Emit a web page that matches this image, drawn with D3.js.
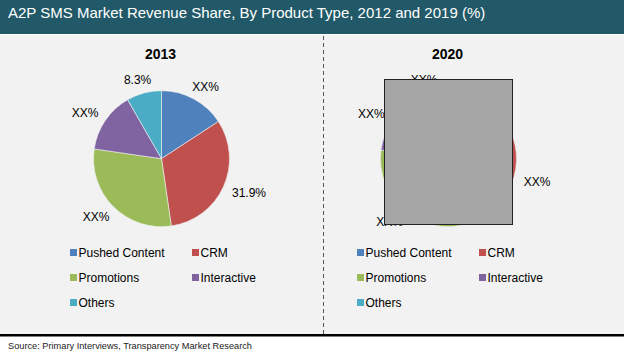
<!DOCTYPE html>
<html><head><meta charset="utf-8">
<script src="https://cdn.jsdelivr.net/npm/d3@7"></script>
<style>html,body{margin:0;padding:0;background:#fff;}svg{display:block;}</style>
</head><body>
<script>
const title = "A2P SMS Market Revenue Share, By Product Type, 2012 and 2019 (%)";
const source = "Source: Primary Interviews, Transparency Market Research";
const categories = ["Pushed Content", "CRM", "Promotions", "Interactive", "Others"];
const colors = ["#4F81BD", "#C0504D", "#9BBB59", "#8064A2", "#4BACC6"];
const years = ["2013", "2020"];
const share2013 = [15.8, 31.9, 29.6, 14.4, 8.3];
const labels2013 = ["XX%", "31.9%", "XX%", "XX%", "8.3%"];
const share2020 = [14.0, 31.0, 32.0, 14.5, 8.5];
const labels2020 = ["XX%", "XX%", "XX%", "XX%", "XX%"];

const W = 624, H = 357;
const svg = d3.select("body").append("svg").attr("width", W).attr("height", H);
const font = "'Liberation Sans',Arial,sans-serif";

// background panels
svg.append("rect").attr("x", 0).attr("y", 0).attr("width", W).attr("height", H).attr("fill", "#fff");
svg.append("rect").attr("x", 0).attr("y", 0).attr("width", W).attr("height", 34).attr("fill", "#215968");
svg.append("rect").attr("x", 0).attr("y", 35).attr("width", W).attr("height", 299).attr("fill", "#f2f2f2");
svg.append("rect").attr("x", 0).attr("y", 334).attr("width", W).attr("height", 2.5).attr("fill", "#000");

svg.append("text").attr("x", 8).attr("y", 17.5)
  .attr("font-family", font).attr("font-size", 15).attr("fill", "#fff")
  .text(title);

svg.append("text").attr("x", 8).attr("y", 349)
  .attr("font-family", font).attr("font-size", 9).attr("fill", "#222")
  .attr("textLength", 244).attr("lengthAdjust", "spacingAndGlyphs")
  .text(source);

// divider
svg.append("line").attr("x1", 323.5).attr("x2", 323.5).attr("y1", 36).attr("y2", 334)
  .attr("stroke", "#555").attr("stroke-width", 1).attr("stroke-dasharray", "4,3");

const R = 68;
const pie = d3.pie().sort(null).value(d => d);
const arc = d3.arc().innerRadius(0).outerRadius(R);

function drawPie(cx, cy, year, values, labels) {
  const g = svg.append("g").attr("transform", `translate(${cx},${cy})`);
  svg.append("text").attr("x", cx - 1).attr("y", 59).attr("text-anchor", "middle")
    .attr("font-family", font).attr("font-weight", "bold").attr("font-size", 14).attr("fill", "#000")
    .text(year);
  const arcs = pie(values);
  g.selectAll("path").data(arcs).enter().append("path")
    .attr("d", arc).attr("fill", (d, i) => colors[i])
    .attr("stroke", "#f2f2f2").attr("stroke-width", 0.6);
  arcs.forEach((d, i) => {
    const a = (d.startAngle + d.endAngle) / 2;
    const s = Math.sin(a), c = -Math.cos(a);
    const t = g.append("text").attr("font-family", font).attr("font-size", 12).attr("fill", "#000")
      .attr("text-anchor", "middle").text(labels[i]);
    const w = t.node().getComputedTextLength(), h = 12;
    const rr = R + 8;
    const x = s * rr + s * w / 2 + s * 3;
    const y = c * rr + c * h / 2;
    t.attr("x", x).attr("y", y + 4.3);
  });
  // legend
  const lx = cx - 91.5, ly = 252.5, colW = 122, rowH = 25;
  categories.forEach((name, i) => {
    const col = i % 2, row = Math.floor(i / 2);
    const x = lx + col * colW, y = ly + row * rowH;
    svg.append("rect").attr("x", x).attr("y", y - 3.5).attr("width", 7).attr("height", 7).attr("fill", colors[i]);
    svg.append("text").attr("x", x + 8.5).attr("y", y + 4.3)
      .attr("font-family", font).attr("font-size", 12).attr("fill", "#000").text(name);
  });
}

drawPie(161.5, 158.7, years[0], share2013, labels2013);
drawPie(448.5, 158.7, years[1], share2020, labels2020);

// covering box over the 2020 pie
svg.append("rect").attr("x", 384.5).attr("y", 79.5).attr("width", 128).attr("height", 145)
  .attr("fill", "#a6a6a6").attr("stroke", "#222").attr("stroke-width", 1);
</script>
</body></html>
